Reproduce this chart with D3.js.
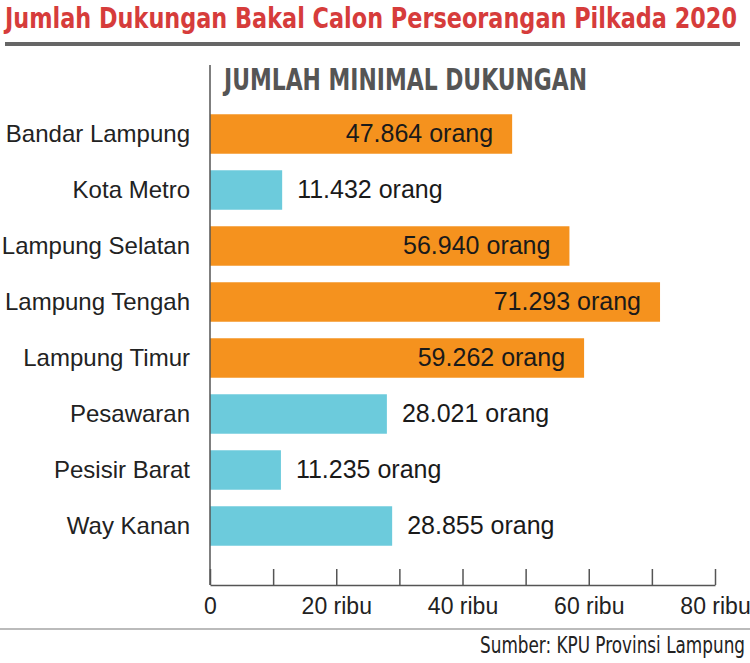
<!DOCTYPE html>
<html>
<head>
<meta charset="utf-8">
<script src="https://cdn.jsdelivr.net/npm/d3@7"></script>
<style>
  body { margin: 0; background: #fff; }
  svg { display: block; }
</style>
</head>
<body>
<svg id="chart" width="750" height="663"></svg>
<script>
// data
const categories = ['Bandar Lampung', 'Kota Metro', 'Lampung Selatan', 'Lampung Tengah',
  'Lampung Timur', 'Pesawaran', 'Pesisir Barat', 'Way Kanan'];
const dukungan = [47864, 11432, 56940, 71293, 59262, 28021, 11235, 28855];
const kelompok = ['besar', 'kecil', 'besar', 'besar', 'besar', 'kecil', 'kecil', 'kecil'];
const tickValues = [0, 10000, 20000, 30000, 40000, 50000, 60000, 70000, 80000];
const tickLabels = ['0', '', '20 ribu', '', '40 ribu', '', '60 ribu', '', '80 ribu'];

const data = categories.map((c, i) => ({ name: c, value: dukungan[i], group: kelompok[i] }));

const svg = d3.select('#chart');
const narrow = '"Liberation Sans Narrow", "DejaVu Sans Condensed", "Roboto Condensed", sans-serif';
const regular = '"Liberation Sans", Arial, sans-serif';

const idFormat = d3.formatLocale({ decimal: ',', thousands: '.', grouping: [3], currency: ['Rp', ''] }).format(',d');

const xScale = d3.scaleLinear().domain([0, 80000]).range([210, 715]);
const yScale = d3.scaleBand()
  .domain(categories)
  .range([106, 554])
  .paddingInner(0.295)
  .paddingOuter(0.1475);
const color = d3.scaleOrdinal().domain(['besar', 'kecil']).range(['#f5921e', '#6ccbdc']);

// title (condensed look: smaller font stretched vertically)
svg.append('text')
  .attr('transform', 'translate(5,28) scale(1,1.15)')
  .attr('font-family', narrow).attr('font-weight', 'bold').attr('font-size', 24.6)
  .attr('fill', '#d63c3b')
  .attr('textLength', 732).attr('lengthAdjust', 'spacingAndGlyphs')
  .text('Jumlah Dukungan Bakal Calon Perseorangan Pilkada 2020');

svg.append('rect')
  .attr('x', 5).attr('y', 42).attr('width', 735).attr('height', 4)
  .attr('fill', '#666');

svg.append('text')
  .attr('x', 224).attr('y', 90)
  .attr('font-family', narrow).attr('font-weight', 'bold').attr('font-size', 30)
  .attr('fill', '#555')
  .attr('textLength', 363).attr('lengthAdjust', 'spacingAndGlyphs')
  .text('JUMLAH MINIMAL DUKUNGAN');

// bars
svg.selectAll('.bar')
  .data(data)
  .enter()
  .append('rect')
  .classed('bar', true)
  .attr('x', xScale(0))
  .attr('y', d => yScale(d.name))
  .attr('width', d => xScale(d.value) - xScale(0))
  .attr('height', yScale.bandwidth())
  .attr('fill', d => color(d.group));

// value labels
svg.selectAll('.val')
  .data(data)
  .enter()
  .append('text')
  .classed('val', true)
  .attr('x', d => d.group === 'besar' ? xScale(d.value) - 19 : xScale(d.value) + 15)
  .attr('y', d => yScale(d.name) + yScale.bandwidth() / 2)
  .attr('dy', '0.33em')
  .attr('text-anchor', d => d.group === 'besar' ? 'end' : 'start')
  .attr('font-family', regular).attr('font-size', 25)
  .attr('fill', '#1a1a1a')
  .text(d => idFormat(d.value) + ' orang');

// category labels
svg.selectAll('.cat')
  .data(data)
  .enter()
  .append('text')
  .classed('cat', true)
  .attr('x', 190)
  .attr('y', d => yScale(d.name) + yScale.bandwidth() / 2)
  .attr('dy', '0.35em')
  .attr('text-anchor', 'end')
  .attr('font-family', regular).attr('font-size', 24)
  .attr('fill', '#222')
  .text(d => d.name);

// vertical axis line
svg.append('line')
  .attr('x1', xScale(0)).attr('x2', xScale(0))
  .attr('y1', 65).attr('y2', 585)
  .attr('stroke', '#555').attr('stroke-width', 1.5);

// x axis
const xAxis = d3.axisBottom(xScale)
  .tickValues(tickValues)
  .tickFormat((d, i) => tickLabels[i])
  .tickSizeInner(-16)
  .tickSizeOuter(0)
  .tickPadding(13);

const gx = svg.append('g')
  .attr('transform', 'translate(0,585)')
  .call(xAxis);
gx.select('.domain').attr('stroke', '#555').attr('stroke-width', 1.5);
gx.selectAll('.tick line').attr('stroke', '#555').attr('stroke-width', 1.5);
gx.selectAll('.tick text')
  .attr('font-family', regular).attr('font-size', 23)
  .attr('fill', '#222');

// footer
svg.append('line')
  .attr('x1', 0).attr('x2', 750)
  .attr('y1', 629).attr('y2', 629)
  .attr('stroke', '#bbb').attr('stroke-width', 2);

svg.append('text')
  .attr('transform', 'translate(745,653) scale(1,1.2)')
  .attr('text-anchor', 'end')
  .attr('font-family', narrow).attr('font-size', 18.6)
  .attr('fill', '#222')
  .attr('textLength', 265).attr('lengthAdjust', 'spacingAndGlyphs')
  .text('Sumber: KPU Provinsi Lampung');
</script>
</body>
</html>
